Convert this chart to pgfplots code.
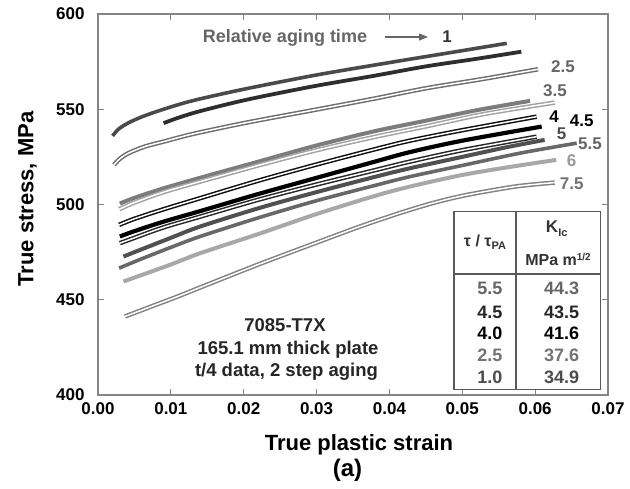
\documentclass[border=0pt]{standalone}
\usepackage{fontspec}
\setmainfont{Liberation Sans}
\usepackage{pgfplots}
\pgfplotsset{compat=1.18}
\usetikzlibrary{arrows.meta}
\definecolor{axgray}{HTML}{858585}
\definecolor{cA}{HTML}{4A4A4A}
\definecolor{cB}{HTML}{2E2E2E}
\definecolor{cC}{HTML}{6E6E6E}
\definecolor{cD}{HTML}{7C7C7C}
\definecolor{cE}{HTML}{A2A2A2}
\definecolor{cF}{HTML}{101010}
\definecolor{cG}{HTML}{000000}
\definecolor{cH}{HTML}{262626}
\definecolor{cX}{HTML}{505050}
\definecolor{cI}{HTML}{686868}
\definecolor{cK}{HTML}{A8A8A8}
\definecolor{cL}{HTML}{828282}
\newcommand{\fs}[1]{\fontsize{#1}{#1}\selectfont}
\pgfplotsset{
  openc/.style={no marks, smooth, tension=0.5, draw=#1, line width=1.5pt, double=white, double distance=1.5pt},
  fillc/.style={no marks, smooth, tension=0.5, draw=#1, line width=4pt},
}
\begin{document}
\begin{tikzpicture}
\path[use as bounding box] (0,0) rectangle (630pt,-489pt);
\begin{axis}[
  at={(98pt,-395pt)}, anchor=south west,
  width=510pt, height=381pt, scale only axis,
  xmin=0, xmax=0.07, ymin=400, ymax=600,
  xtick={0,0.01,0.02,0.03,0.04,0.05,0.06,0.07},
  xticklabels={0.00,0.01,0.02,0.03,0.04,0.05,0.06,0.07},
  ytick={400,450,500,550,600},
  yticklabels={400,450,500,550,600},
  scaled x ticks=false,
  tick align=inside,
  major tick length=6pt,
  axis line style={draw=axgray, line width=1.3pt},
  every tick/.style={draw=axgray, line width=1pt},
  ticklabel style={font=\bfseries\fs{17}},
  /pgf/number format/assume math mode=true,
  xticklabel style={yshift=-4pt},
  yticklabel style={xshift=-10pt},
  clip=false,
]
% relative aging time 1
\addplot[fillc=cA, line width=3.6pt] coordinates {
(0.0020,536.0)(0.0028,539.5)(0.0040,542.5)(0.0060,546.0)(0.0090,550.0)(0.0130,554.5)(0.0200,560.5)(0.0300,568.0)(0.0400,574.5)(0.0480,579.5)(0.0561,584.6)};
\addplot[fillc=cB, line width=3.8pt] coordinates {
(0.0090,542.7)(0.0110,545.5)(0.0140,549.0)(0.0204,555.0)(0.0295,562.0)(0.0378,567.5)(0.0450,572.5)(0.0520,576.5)(0.0581,580.2)};
% 2.5
\addplot[openc=cC] coordinates {
(0.0022,520.8)(0.0030,524.0)(0.0042,527.0)(0.0065,530.5)(0.0090,533.0)(0.0130,537.0)(0.0204,543.0)(0.0295,549.5)(0.0378,555.5)(0.0450,561.0)(0.0530,566.0)(0.0604,571.0)};
% unlabeled medium gray
\addplot[fillc=cD] coordinates {
(0.0030,500.5)(0.0050,503.5)(0.0090,508.5)(0.0140,514.0)(0.0220,522.5)(0.0300,531.0)(0.0380,538.5)(0.0450,544.0)(0.0520,549.5)(0.0593,554.4)};
% 3.5
\addplot[openc=cE] coordinates {
(0.0029,497.5)(0.0050,501.0)(0.0090,506.5)(0.0140,512.0)(0.0220,520.5)(0.0300,528.5)(0.0380,535.5)(0.0450,541.0)(0.0530,547.5)(0.0627,553.5)};
% 4
\addplot[openc=cF] coordinates {
(0.0029,489.3)(0.0050,492.5)(0.0090,497.5)(0.0140,503.3)(0.0220,512.5)(0.0300,521.0)(0.0380,529.0)(0.0428,533.5)(0.0500,539.0)(0.0602,546.1)};
% 4.5
\addplot[fillc=cG, line width=4.2pt] coordinates {
(0.0030,483.2)(0.0050,486.0)(0.0090,491.0)(0.0140,496.5)(0.0220,505.5)(0.0300,514.0)(0.0380,522.5)(0.0428,527.5)(0.0500,533.5)(0.0609,540.9)};
% open squares
\addplot[openc=cH] coordinates {
(0.0030,479.7)(0.0050,482.5)(0.0090,488.0)(0.0140,493.6)(0.0220,502.5)(0.0300,510.5)(0.0380,518.0)(0.0428,522.5)(0.0500,528.5)(0.0602,535.6)};
% 5
\addplot[fillc=cX] coordinates {
(0.0035,472.7)(0.0060,476.5)(0.0100,482.5)(0.0140,488.4)(0.0220,498.0)(0.0300,506.5)(0.0380,514.5)(0.0428,519.0)(0.0500,525.0)(0.0560,530.0)(0.0613,533.9)};
% 5.5
\addplot[fillc=cI, line width=3.6pt] coordinates {
(0.0029,466.6)(0.0060,471.5)(0.0100,477.5)(0.0140,483.2)(0.0220,493.0)(0.0300,502.0)(0.0380,510.0)(0.0428,514.6)(0.0500,520.5)(0.0580,527.0)(0.0657,532.2)};
% 6
\addplot[fillc=cK] coordinates {
(0.0035,459.6)(0.0060,463.0)(0.0100,468.5)(0.0140,474.4)(0.0220,484.5)(0.0300,495.0)(0.0380,504.5)(0.0428,509.4)(0.0500,515.5)(0.0570,520.0)(0.0629,523.4)};
% 7.5
\addplot[openc=cL] coordinates {
(0.0037,441.2)(0.0070,446.0)(0.0110,451.8)(0.0140,456.4)(0.0220,468.5)(0.0300,480.0)(0.0360,488.5)(0.0414,495.5)(0.0460,500.8)(0.0506,505.0)(0.0574,509.5)(0.0627,511.5)};
\end{axis}
% axis labels
\node[anchor=base, font=\bfseries\fs{22}] at (359pt,-450pt) {True plastic strain};
\node[anchor=base, font=\bfseries\fs{24}] at (347.5pt,-476pt) {(a)};
\node[anchor=base, rotate=90, font=\bfseries\fs{22}] at (33.3pt,-199pt) {True stress, MPa};
% relative aging annotation
\node[anchor=base, font=\bfseries\fs{18}, text=black!60] at (285pt,-42.7pt) {Relative aging time};
\draw[-{Triangle[length=9pt,width=7pt]}, line width=1.3pt, draw=black!60] (385pt,-37pt) -- (428pt,-37pt);
\node[anchor=base, font=\bfseries\fs{17}, text=black!80] at (447pt,-43pt) {1};
\node[anchor=base, font=\bfseries\fs{17}, text=black!60] at (563pt,-72.5pt) {2.5};
\node[anchor=base, font=\bfseries\fs{17}, text=black!60] at (555pt,-96.5pt) {3.5};
\node[anchor=base, font=\bfseries\fs{17}, text=black] at (554pt,-123pt) {4};
\node[anchor=base, font=\bfseries\fs{17}, text=black] at (581.7pt,-126.5pt) {4.5};
\node[anchor=base, font=\bfseries\fs{17}, text=black!70] at (561.7pt,-139.8pt) {5};
\node[anchor=base, font=\bfseries\fs{17}, text=black!60] at (590pt,-149.8pt) {5.5};
\node[anchor=base, font=\bfseries\fs{17}, text=black!40] at (571.7pt,-166.5pt) {6};
\node[anchor=base, font=\bfseries\fs{17}, text=black!55] at (571.7pt,-189.8pt) {7.5};
% material annotation
\node[anchor=base, font=\bfseries\fs{18.5}, text=black!85] at (285pt,-331.7pt) {7085-T7X};
\node[anchor=base, font=\bfseries\fs{18.5}, text=black!85] at (288pt,-355pt) {165.1 mm thick plate};
\node[anchor=base, font=\bfseries\fs{18.5}, text=black!85] at (286.5pt,-376.7pt) {t/4 data, 2 step aging};
% table
\draw[draw=black!65, line width=1.2pt, fill=white] (454pt,-211.7pt) rectangle (600.7pt,-389.3pt);
\draw[draw=black!65, line width=1.2pt] (454pt,-274pt) -- (600.7pt,-274pt);
\draw[draw=black!65, line width=1.2pt] (516pt,-211.7pt) -- (516pt,-389.3pt);
\node[anchor=base, font=\bfseries\fs{16}, text=black!80] at (485pt,-247pt) {τ / τ\raisebox{-0.35ex}{\fs{11}PA}};
\node[anchor=base, font=\bfseries\fs{17}, text=black!80] at (556.7pt,-233pt) {K\raisebox{-0.4ex}{\fs{11}Ic}};
\node[anchor=base, font=\bfseries\fs{16}, text=black!80] at (558pt,-266pt) {MPa m\raisebox{0.7ex}{\fs{10}1/2}};
\node[anchor=base east, font=\bfseries\fs{18}, text=black!60] at (506pt,-294.8pt) {5.5};
\node[anchor=base east, font=\bfseries\fs{18}, text=black!85] at (506pt,-318.2pt) {4.5};
\node[anchor=base east, font=\bfseries\fs{18}, text=black] at (506pt,-339.8pt) {4.0};
\node[anchor=base east, font=\bfseries\fs{18}, text=black!55] at (506pt,-361.5pt) {2.5};
\node[anchor=base east, font=\bfseries\fs{18}, text=black!70] at (506pt,-383.2pt) {1.0};
\node[anchor=base, font=\bfseries\fs{18}, text=black!60] at (561.7pt,-294.8pt) {44.3};
\node[anchor=base, font=\bfseries\fs{18}, text=black!85] at (561.7pt,-318.2pt) {43.5};
\node[anchor=base, font=\bfseries\fs{18}, text=black] at (561.7pt,-339.8pt) {41.6};
\node[anchor=base, font=\bfseries\fs{18}, text=black!55] at (561.7pt,-361.5pt) {37.6};
\node[anchor=base, font=\bfseries\fs{18}, text=black!70] at (561.7pt,-383.2pt) {34.9};
\end{tikzpicture}
\end{document}
